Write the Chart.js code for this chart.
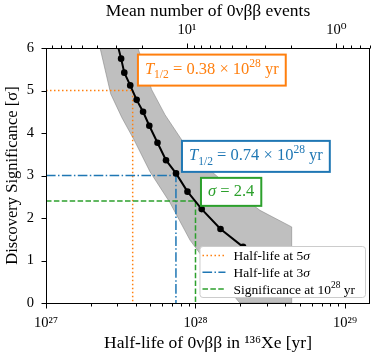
<!DOCTYPE html>
<html><head><meta charset="utf-8">
<script src="https://cdn.jsdelivr.net/npm/chart.js@4"></script>
<style>html,body{margin:0;padding:0;background:#fff}</style>
</head><body>
<canvas id="c" width="374" height="358"></canvas>
<script>
const F = "'Liberation Serif', 'DejaVu Serif', serif";

// ---- data ----
const halfLife     = [2.95e27, 3.18e27, 3.34e27, 3.66e27, 4.04e27, 4.46e27, 4.91e27, 5.57e27, 6.35e27, 7.41e27, 8.84e27, 1.10e28, 1.47e28, 2.08e28, 3.15e28];
const significance = [6.2,     5.75,    5.42,    5.12,    4.78,    4.50,    4.17,    3.77,    3.36,    3.05,    2.62,    2.21,    1.74,    1.32,    0.94];

const bandLowT    = [2.19e27, 2.30e27, 2.71e27, 3.22e27, 3.88e27, 4.96e27, 6.75e27, 9.19e27, 1.29e28, 1.98e28];
const bandLowSig  = [6.3,     6.0,     4.92,    4.36,    3.84,    3.09,    2.36,    1.48,    0.78,    0];
const bandHighT   = [3.88e27, 4.12e27, 5.09e27, 6.25e27, 8.08e27, 1.008e28, 1.284e28, 1.84e28, 2.70e28, 4.40e28, 4.40e28];
const bandHighSig = [6.3,     6.0,     5.02,    4.43,    3.84,    3.44,     3.09,     2.62,    2.18,    1.79,    0];

const fiveSigmaHalfLife  = 0.38e28;
const threeSigmaHalfLife = 0.74e28;
const refHalfLife        = 1e28;
const refSignificance    = 2.4;
const eventsTimesHalfLife = 8.77e28;   // mean number of events x half-life

const xRange = [1e27, 1.47e29];
const yRange = [0, 6];
const bottomTickValues = [1e27, 1e28, 1e29];
const bottomTickLabels = ['10²⁷', '10²⁸', '10²⁹'];
const topTickValues = [10, 1];
const topTickLabels = ['10¹', '10⁰'];
const legendLabels = ['Half-life at 5σ', 'Half-life at 3σ', 'Significance at 10²⁸ yr'];
const annotationTexts = [
  [{t:'T',it:true},{t:'1/2',sub:true},{t:' = 0.38 × 10'},{t:'28',sup:true},{t:' yr'}],
  [{t:'T',it:true},{t:'1/2',sub:true},{t:' = 0.74 × 10'},{t:'28',sup:true},{t:' yr'}],
  [{t:'σ',it:true},{t:' = 2.4'}]
];
// anchor (left edge, vertical centre) of each annotation box, in data coordinates
const annotationAnchors = [[4.12e27, 5.48], [8.12e27, 3.45], [1.088e28, 2.615]];
const annotationColors = ['#ff7f0e', '#1f77b4', '#2ca02c'];

// ---- helpers ----
function logTicks(min, max) {
  const out = [];
  for (let e = Math.floor(Math.log10(min)) ; e <= Math.ceil(Math.log10(max)); e++) {
    for (let m = 1; m < 10; m++) {
      const v = +(m * Math.pow(10, e)).toPrecision(6);
      if (v >= min * (1 - 1e-9) && v <= max * (1 + 1e-9)) out.push(v);
    }
  }
  return out;
}
function labelFrom(values, labels, v) {
  const i = values.findIndex(t => Math.abs(t - v) / t < 1e-6);
  return i >= 0 ? labels[i] : '';
}
function pts(xs, ys) { return xs.map((x, i) => ({x, y: ys[i]})); }

const SUPS = {'⁰':'0','¹':'1','²':'2','³':'3','⁴':'4','⁵':'5','⁶':'6','⁷':'7','⁸':'8','⁹':'9'};
function parseRich(str) {
  const segs = [];
  for (const ch of str) {
    let seg;
    if (SUPS[ch]) seg = {t: SUPS[ch], sup: true};
    else if ('σνβ'.includes(ch)) seg = {t: ch, it: true};
    else seg = {t: ch};
    const last = segs[segs.length - 1];
    if (last && !!last.sup === !!seg.sup && !!last.it === !!seg.it && !!last.sub === !!seg.sub) last.t += seg.t;
    else segs.push(seg);
  }
  return segs;
}
function richFont(s, size) {
  const fs = (s.sub || s.sup) ? size * 0.7 : size;
  return (s.it ? 'italic ' : '') + fs + 'px ' + F;
}
function measureRich(ctx, segs, size) {
  let w = 0;
  for (const s of segs) { ctx.font = richFont(s, size); w += ctx.measureText(s.t).width; }
  return w;
}
function drawRich(ctx, segs, x, y, size) {
  let cx = x;
  ctx.textBaseline = 'alphabetic';
  ctx.textAlign = 'left';
  for (const s of segs) {
    ctx.font = richFont(s, size);
    const dy = s.sub ? size * 0.25 : s.sup ? -size * 0.42 : 0;
    ctx.fillText(s.t, cx, y + dy);
    cx += ctx.measureText(s.t).width;
  }
}

const orangeDash = [1.5, 2.5], blueDash = [9.6, 2.4, 1.5, 2.4], greenDash = [5.5, 2.4];

const datasets = [
  { label: 'curve', data: pts(halfLife, significance), showLine: true, borderColor: '#000', backgroundColor: '#000',
    borderWidth: 2, pointRadius: 3.3, pointBorderWidth: 0, pointBackgroundColor: '#000', tension: 0, order: 0 },
  { label: legendLabels[0], data: pts([xRange[0], fiveSigmaHalfLife, fiveSigmaHalfLife], [5, 5, 0]), showLine: true,
    borderColor: '#ff7f0e', borderWidth: 1.5, borderDash: orangeDash, pointRadius: 0, order: 3 },
  { label: legendLabels[1], data: pts([xRange[0], threeSigmaHalfLife, threeSigmaHalfLife], [3, 3, 0]), showLine: true,
    borderColor: '#1f77b4', borderWidth: 1.5, borderDash: blueDash, pointRadius: 0, order: 2 },
  { label: legendLabels[2], data: pts([xRange[0], refHalfLife, refHalfLife], [refSignificance, refSignificance, 0]), showLine: true,
    borderColor: '#2ca02c', borderWidth: 1.5, borderDash: greenDash, pointRadius: 0, order: 1 },
  { label: 'band', data: pts(bandLowT, bandLowSig).concat(pts(bandHighT, bandHighSig).reverse()), showLine: true,
    fill: 'shape', backgroundColor: 'rgba(128,128,128,0.5)', borderColor: 'rgba(128,128,128,0.55)', borderWidth: 1,
    pointRadius: 0, tension: 0, order: 10 }
];

const decorPlugin = {
  id: 'decor',
  afterDatasetsDraw(chart) {
    const ctx = chart.ctx, xs = chart.scales.x, ys = chart.scales.y, a = chart.chartArea;
    ctx.save();
    // annotation boxes
    annotationTexts.forEach((segs, i) => {
      const size = 16.5;
      const px = xs.getPixelForValue(annotationAnchors[i][0]);
      const py = ys.getPixelForValue(annotationAnchors[i][1]);
      const w = measureRich(ctx, segs, size) + 14;
      const h = segs.length > 2 ? 31 : 28;
      ctx.fillStyle = '#fff';
      ctx.fillRect(px, py - h / 2, w, h);
      ctx.strokeStyle = annotationColors[i];
      ctx.lineWidth = 2;
      ctx.setLineDash([]);
      ctx.strokeRect(px, py - h / 2, w, h);
      ctx.fillStyle = annotationColors[i];
      drawRich(ctx, segs, px + 7, py + 4, size);
    });
    // legend
    const ls = 13.5, rowH = 16.8;
    const items = datasets.slice(1, 4);
    let tw = 0;
    items.forEach(d => { tw = Math.max(tw, measureRich(ctx, parseRich(d.label), ls)); });
    const lw = tw + 34 + 10, lh = 51;
    const lx = a.right - 5 - lw, ly = a.bottom - 6 - lh;
    ctx.beginPath();
    ctx.roundRect(lx + 0.5, ly + 0.5, lw, lh, 3);
    ctx.fillStyle = '#fff';
    ctx.fill();
    ctx.strokeStyle = '#cccccc';
    ctx.lineWidth = 1;
    ctx.stroke();
    items.forEach((d, i) => {
      const cy = ly + 9.5 + i * rowH;
      ctx.beginPath();
      ctx.strokeStyle = d.borderColor;
      ctx.lineWidth = 1.5;
      ctx.setLineDash(d.borderDash);
      ctx.moveTo(lx + 3, cy);
      ctx.lineTo(lx + 26, cy);
      ctx.stroke();
      ctx.setLineDash([]);
      ctx.fillStyle = '#000';
      drawRich(ctx, parseRich(d.label), lx + 34, cy + 4.5, ls);
    });
    ctx.restore();
  },
  afterDraw(chart) {
    const ctx = chart.ctx, a = chart.chartArea;
    ctx.save();
    ctx.strokeStyle = '#000';
    ctx.lineWidth = 1;
    ctx.setLineDash([]);
    const L = Math.round(a.left) + 0.5, R = Math.round(a.right) - 0.5, T = Math.round(a.top) + 0.5, B = Math.round(a.bottom) + 0.5;
    ctx.strokeRect(L, T, R - L, B - T);
    const drawTicks = (scale, side) => {
      scale.ticks.forEach(t => {
        const major = t.label !== '' && t.label !== undefined;
        const len = major ? 5 : 3;
        const p = Math.round(scale.getPixelForValue(t.value)) + 0.5;
        ctx.beginPath();
        if (side === 'bottom') { ctx.moveTo(p, B); ctx.lineTo(p, B + len); }
        else if (side === 'top') { ctx.moveTo(p, T); ctx.lineTo(p, T - len); }
        else { ctx.moveTo(L, p); ctx.lineTo(L - len, p); }
        ctx.stroke();
      });
    };
    drawTicks(chart.scales.x, 'bottom');
    drawTicks(chart.scales.x2, 'top');
    drawTicks(chart.scales.y, 'left');
    ctx.restore();
  }
};

new Chart(document.getElementById('c'), {
  type: 'scatter',
  data: { datasets },
  options: {
    responsive: false, animation: false, devicePixelRatio: 1,
    layout: { padding: { left: 0, right: 4, top: 0, bottom: 0 } },
    plugins: { legend: { display: false }, tooltip: { enabled: false } },
    scales: {
      x: {
        type: 'logarithmic', position: 'bottom', min: xRange[0], max: xRange[1],
        afterBuildTicks: s => { s.ticks = logTicks(s.min, s.max).map(v => ({value: v})); },
        afterFit: s => { s.height = 55; },
        grid: { display: false, drawTicks: false }, border: { display: false },
        ticks: { autoSkip: false, maxRotation: 0, minRotation: 0, padding: 11, color: '#000',
                 font: { family: F, size: 14.5 }, callback: v => labelFrom(bottomTickValues, bottomTickLabels, v) },
        title: { display: true, text: 'Half-life of 0νββ in ¹³⁶Xe [yr]', color: '#000',
                 font: { family: F, size: 17.5 }, padding: { top: 0, bottom: 4 } }
      },
      x2: {
        axis: 'x', type: 'logarithmic', position: 'top', reverse: true,
        min: eventsTimesHalfLife / xRange[1], max: eventsTimesHalfLife / xRange[0],
        afterBuildTicks: s => { s.ticks = logTicks(s.min, s.max).map(v => ({value: v})); },
        afterFit: s => { s.height = 48; },
        grid: { display: false, drawTicks: false }, border: { display: false },
        ticks: { autoSkip: false, maxRotation: 0, minRotation: 0, padding: 9, color: '#000',
                 font: { family: F, size: 14.5 }, callback: v => labelFrom(topTickValues, topTickLabels, v) },
        title: { display: true, text: 'Mean number of 0νββ events', color: '#000',
                 font: { family: F, size: 17.5 }, padding: { top: 1, bottom: 0 } }
      },
      y: {
        type: 'linear', position: 'left', min: yRange[0], max: yRange[1],
        afterFit: s => { s.width = 46; },
        grid: { display: false, drawTicks: false }, border: { display: false },
        ticks: { stepSize: 1, padding: 12, color: '#000', font: { family: F, size: 14.5 } },
        title: { display: true, text: 'Discovery Significance [σ]', color: '#000',
                 font: { family: F, size: 16.5 }, padding: { top: 3, bottom: 0 } }
      }
    }
  },
  plugins: [decorPlugin]
});
</script>
</body></html>
